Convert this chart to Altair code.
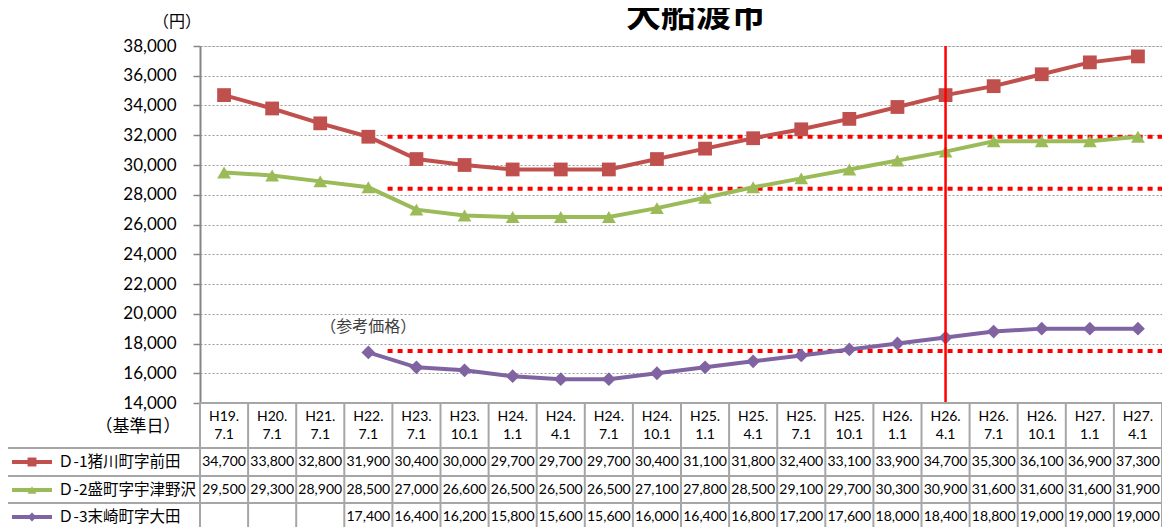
import altair as alt
import pandas as pd

# ---------------- data ----------------
cats = ["H19.7.1", "H20.7.1", "H21.7.1", "H22.7.1", "H23.7.1", "H23.10.1",
        "H24.1.1", "H24.4.1", "H24.7.1", "H24.10.1", "H25.1.1", "H25.4.1",
        "H25.7.1", "H25.10.1", "H26.1.1", "H26.4.1", "H26.7.1", "H26.10.1",
        "H27.1.1", "H27.4.1"]
names = ["Ｄ-1猪川町字前田", "Ｄ-2盛町字宇津野沢", "Ｄ-3末崎町字大田"]
d1 = [34700, 33800, 32800, 31900, 30400, 30000, 29700, 29700, 29700, 30400,
      31100, 31800, 32400, 33100, 33900, 34700, 35300, 36100, 36900, 37300]
d2 = [29500, 29300, 28900, 28500, 27000, 26600, 26500, 26500, 26500, 27100,
      27800, 28500, 29100, 29700, 30300, 30900, 31600, 31600, 31600, 31900]
d3 = [None, None, None, 17400, 16400, 16200, 15800, 15600, 15600, 16000,
      16400, 16800, 17200, 17600, 18000, 18400, 18800, 19000, 19000, 19000]
ref_levels = [31900, 28400, 17500]
ref_start_cat = "H22.7.1"
mark_cat = "H26.4.1"
note_value = 19100
y_ticks = list(range(14000, 38001, 2000))
title_text = "大船渡市"
unit_text = "（円）"
date_text = "（基準日）"
note_text = "（参考価格）"

colors = ["#C0504D", "#9BBB59", "#8064A2"]
shapes = ["square", "triangle-up", "diamond"]
series = [d1, d2, d3]

FONT = "Lato, 'Noto Sans CJK JP', sans-serif"
JFONT = "'Noto Sans CJK JP', sans-serif"

W, H = 962, 357
n = len(cats)
XS = alt.Scale(domain=[-0.5, n - 0.5], nice=False, zero=False)
YS = alt.Scale(domain=[y_ticks[0], y_ticks[-1]], nice=False, zero=False)
YAX = alt.Axis(
    values=y_ticks, format=",d", title=None,
    grid=True, gridDash=[2, 2], gridColor="#9A9A9A", gridWidth=1,
    domainColor="#868686", domainWidth=2, tickColor="#868686", tickSize=7,
    tickWidth=1.5, labelFont=FONT, labelFontSize=17, labelColor="#000000",
    labelPadding=17)

rows = []
for s, vals in enumerate(series):
    for i, v in enumerate(vals):
        if v is not None:
            rows.append({"series": names[s], "idx": i, "value": v,
                         "label": f"{v:,}"})
df = pd.DataFrame(rows)
cdf = pd.DataFrame({"idx": list(range(n)),
                    "h1": [c.split(".", 1)[0] + "." for c in cats],
                    "h2": [c.split(".", 1)[1] for c in cats]})
one = pd.DataFrame({"a": [0]})

color = alt.Color("series:N", scale=alt.Scale(domain=names, range=colors), legend=None)
shape = alt.Shape("series:N", scale=alt.Scale(domain=names, range=shapes), legend=None)

base_x = alt.X("idx:Q", scale=XS, axis=None)


def Y(field):
    return alt.Y(field, scale=YS, axis=YAX)


# reference dotted lines
start_idx = cats.index(ref_start_cat) + 0.4
refdf = pd.DataFrame({"value": ref_levels, "x0": [start_idx] * 3, "x1": [n - 0.5] * 3})
ref_layer = alt.Chart(refdf).mark_rule(color="#FF0000", strokeWidth=4, strokeDash=[5, 5]).encode(
    x=alt.X("x0:Q", scale=XS, axis=None), x2="x1:Q", y=Y("value:Q"))

vdf = pd.DataFrame({"idx": [cats.index(mark_cat)]})
vline = alt.Chart(vdf).mark_rule(color="#FF0000", strokeWidth=2.5).encode(
    x=base_x, y=alt.value(0), y2=alt.value(H))

lines = alt.Chart(df).mark_line(strokeWidth=4).encode(
    x=base_x, y=Y("value:Q"), color=color)
points = alt.Chart(df).mark_point(filled=True, opacity=1, size=190, strokeWidth=0).encode(
    x=base_x, y=Y("value:Q"), color=color, shape=shape)

ndf = pd.DataFrame({"idx": [cats.index(ref_start_cat)], "value": [note_value], "t": [note_text]})
note = alt.Chart(ndf).mark_text(font=JFONT, fontSize=16, color="#404040").encode(
    x=base_x, y=Y("value:Q"), text="t:N")

title = alt.Chart(one).mark_text(font=JFONT, fontSize=35, fontWeight="bold",
                                 color="#000000", baseline="alphabetic",
                                 text=title_text).encode(
    x=alt.value(496), y=alt.value(-19))
unit = alt.Chart(one).mark_text(font=JFONT, fontSize=16, color="#000000", text=unit_text).encode(
    x=alt.value(-23), y=alt.value(-24))
date_lbl = alt.Chart(one).mark_text(font=JFONT, fontSize=17, color="#000000", text=date_text).encode(
    x=alt.value(-62), y=alt.value(381))

# ---------------- table ----------------
BC = "#A6A6A6"
row_lines_y = [357, 402, 430, 457, 484]
tl = []
for k, yy in enumerate(row_lines_y):
    x0 = 0 if k == 0 else -193
    tl.append(alt.Chart(one).mark_rule(color=BC, strokeWidth=2).encode(
        x=alt.value(x0), x2=alt.value(W), y=alt.value(yy)))
bdf = pd.DataFrame({"b": [i - 0.5 for i in range(n + 1)]})
tl.append(alt.Chart(bdf).mark_rule(color=BC, strokeWidth=2).encode(
    x=alt.X("b:Q", scale=XS, axis=None), y=alt.value(H), y2=alt.value(520)))
tl.append(alt.Chart(one).mark_rule(color=BC, strokeWidth=2).encode(
    x=alt.value(-193), y=alt.value(402), y2=alt.value(520)))

hdr1 = alt.Chart(cdf).mark_text(font=FONT, fontSize=14, color="#000000").encode(
    x=base_x, y=alt.value(371), text="h1:N")
hdr2 = alt.Chart(cdf).mark_text(font=FONT, fontSize=14, color="#000000").encode(
    x=base_x, y=alt.value(389), text="h2:N")

row_c = [416, 444, 471]
cells = []
for s in range(3):
    sub = df[df.series == names[s]]
    cells.append(alt.Chart(sub).mark_text(font=FONT, fontSize=14, color="#000000").encode(
        x=base_x, y=alt.value(row_c[s]), text="label:N"))
    ldf = pd.DataFrame({"series": [names[s]]})
    cells.append(alt.Chart(ldf).mark_rule(strokeWidth=4).encode(
        x=alt.value(-188), x2=alt.value(-148), y=alt.value(row_c[s]), color=color))
    cells.append(alt.Chart(ldf).mark_point(filled=True, opacity=1, size=80, strokeWidth=0).encode(
        x=alt.value(-168), y=alt.value(row_c[s]), color=color, shape=shape))
    cells.append(alt.Chart(ldf).mark_text(font=JFONT, fontSize=15.5, align="left", color="#000000").encode(
        x=alt.value(-142), y=alt.value(row_c[s]), text="series:N"))

chart = alt.layer(
    ref_layer, lines, points, vline, note, title, unit, date_lbl,
    *tl, hdr1, hdr2, *cells
).properties(
    width=W, height=H,
    autosize=alt.AutoSizeParams(type="none"),
    padding={"left": 192, "top": 38, "right": 0, "bottom": 124},
).configure_view(strokeWidth=0).configure(background="#FFFFFF")

chart.save("out.html", embed_options={"renderer": "svg", "actions": False})
